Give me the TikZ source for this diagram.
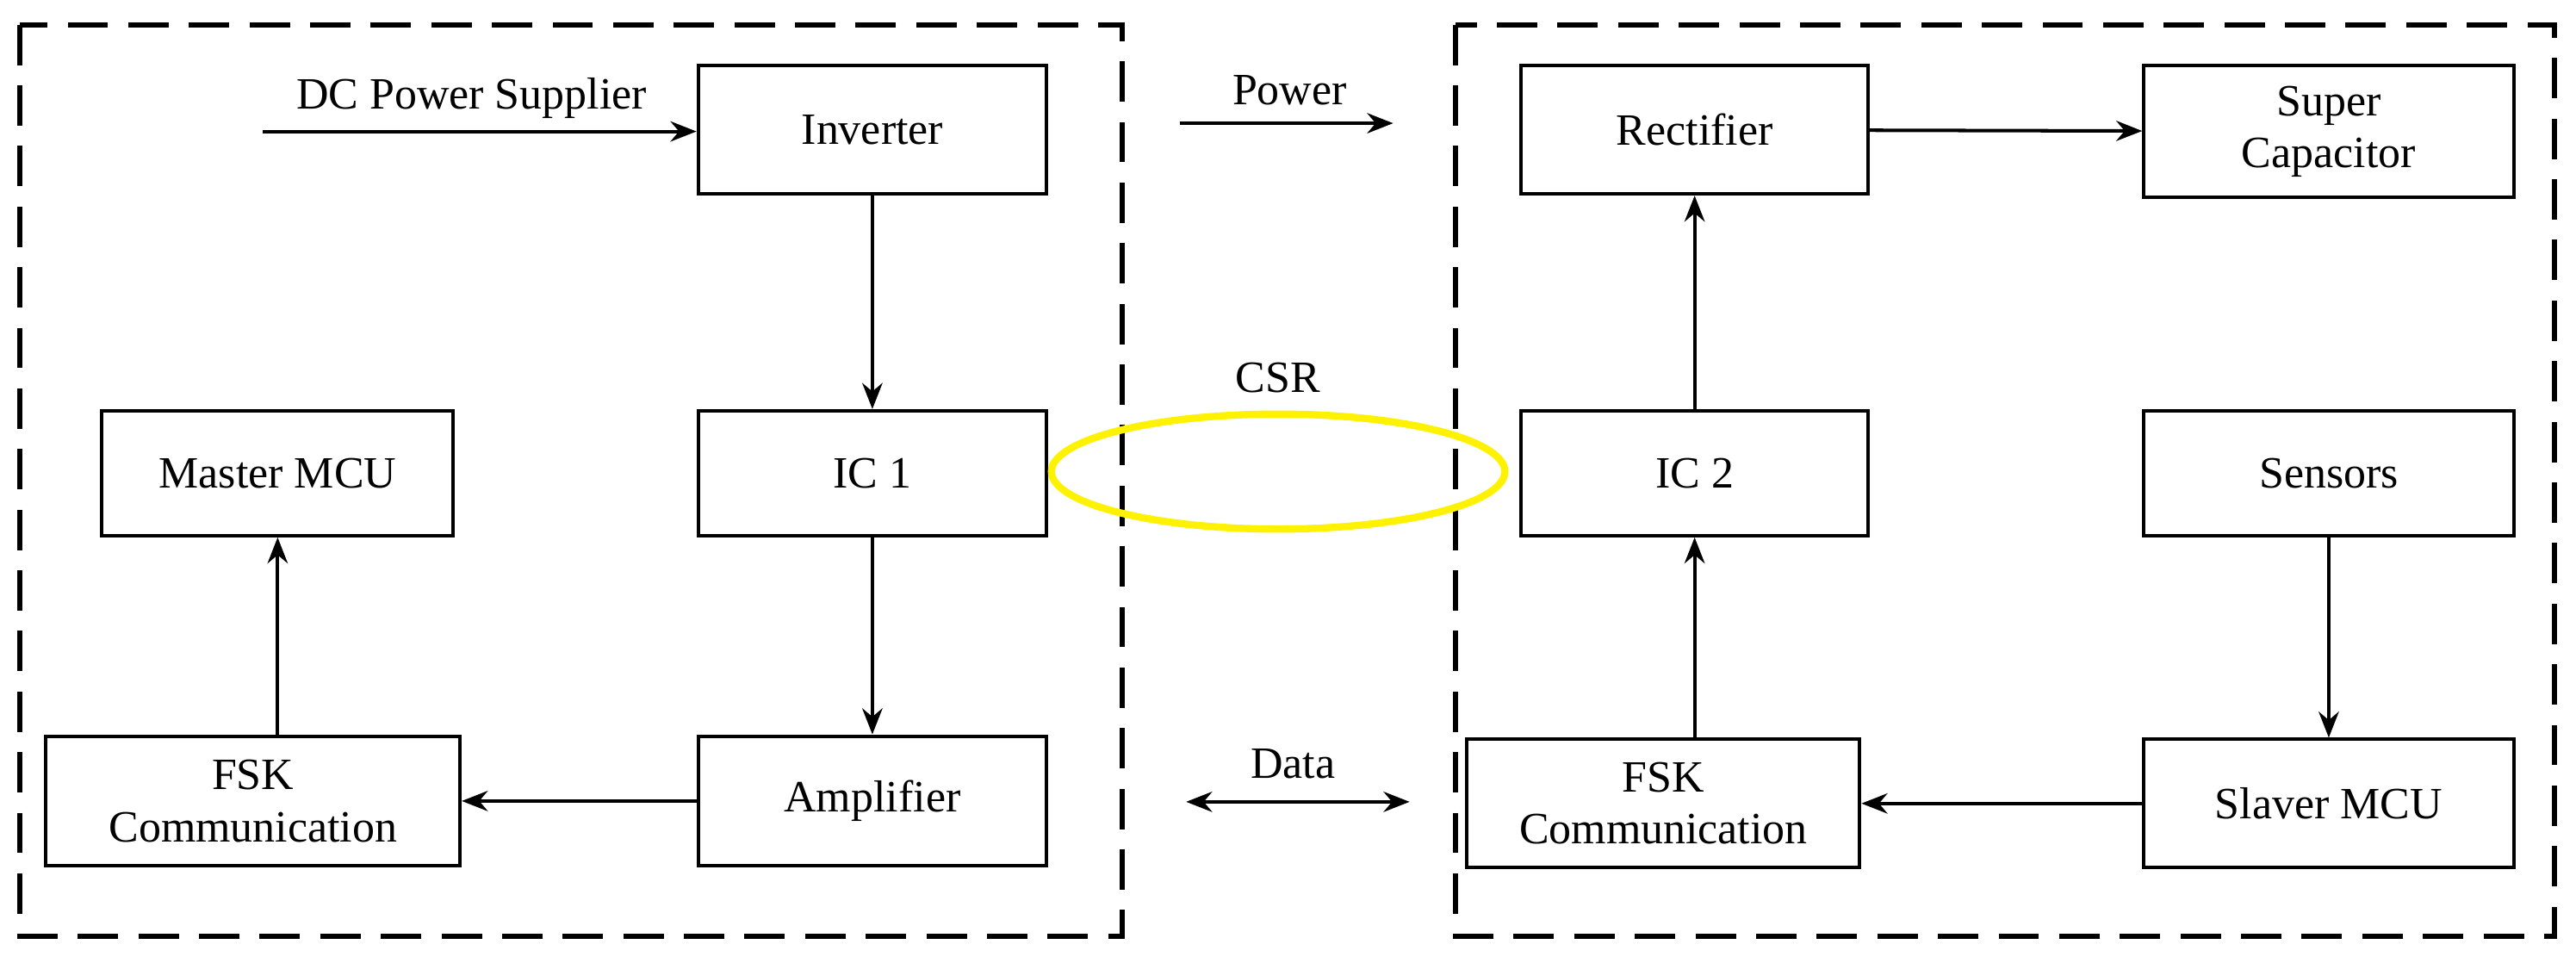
\documentclass[tikz,border=0pt]{standalone}
\usepackage{fontspec}
\setmainfont{Liberation Serif}
\usetikzlibrary{arrows.meta,positioning}
\begin{document}
\begin{tikzpicture}[x=0.02cm,y=-0.02cm,
  box/.style={draw,line width=1.2pt,minimum width=0,inner sep=0,align=center,font=\fontsize{15.5}{18}\selectfont},
  lbl/.style={font=\fontsize{15.5}{18}\selectfont},
  arr/.style={line width=1.2pt,-{Stealth[length=9pt,width=7pt]}},
  dbl/.style={line width=1.2pt,{Stealth[length=9pt,width=7pt]}-{Stealth[length=9pt,width=7pt]}},
  frame/.style={draw,line width=1.8pt,dash pattern=on 14pt off 7pt}]
\useasboundingbox (0,0) rectangle (1568,585.6);
\newcommand{\bx}[6]{\node[box,minimum width={(#4-#2)*0.02cm},minimum height={(#5-#3)*0.02cm}] (#1) at ({(#2+#4)/2},{(#3+#5)/2}) {#6};}
\draw[frame] (12,15) rectangle (683,570);
\draw[frame] (886,15) rectangle (1555,570);
\bx{inv}{425}{40}{637}{118}{Inverter}
\bx{mmcu}{62}{250}{276}{326}{Master MCU}
\bx{ic1}{425}{250}{637}{326}{IC 1}
\bx{fskl}{28}{448}{280}{527}{FSK\\Communication}
\bx{amp}{425}{448}{637}{527}{Amplifier}
\bx{rect}{926}{40}{1137}{118}{Rectifier}
\bx{sc}{1305}{40}{1530}{120}{Super\\Capacitor}
\bx{ic2}{926}{250}{1137}{326}{IC 2}
\bx{sens}{1305}{250}{1530}{326}{Sensors}
\bx{fskr}{893}{450}{1132}{528}{FSK\\Communication}
\bx{smcu}{1305}{450}{1530}{528}{Slaver MCU}
\draw[yellow,line width=2.5pt] (778,287) ellipse [x radius=138, y radius=35];
\node[lbl] (csr) at (778,230) {CSR};
\node[lbl] (dc) at (287,60) {DC Power Supplier};
\coordinate (dcs) at (160,80);
\draw[arr] (dcs) -- (dcs -| inv.west);
\draw[arr] (inv) -- (ic1);
\draw[arr] (ic1) -- (amp);
\draw[arr] (amp) -- (fskl);
\draw[arr] (fskl.north -| mmcu) -- (mmcu);
\draw[arr] (rect) -- (sc);
\draw[arr] (ic2) -- (rect);
\draw[arr] (fskr.north -| ic2) -- (ic2);
\draw[arr] (sens) -- (smcu);
\draw[arr] (smcu) -- (fskr.east |- smcu);
\node[lbl] (pw) at (785,55) {Power};
\coordinate (p1) at (718,75); \coordinate (p2) at (848,75);
\draw[arr] (p1) -- (p2);
\node[lbl] (dt) at (787,465) {Data};
\coordinate (d1) at (722,488); \coordinate (d2) at (858,488);
\draw[dbl] (d1) -- (d2);
\end{tikzpicture}
\end{document}
